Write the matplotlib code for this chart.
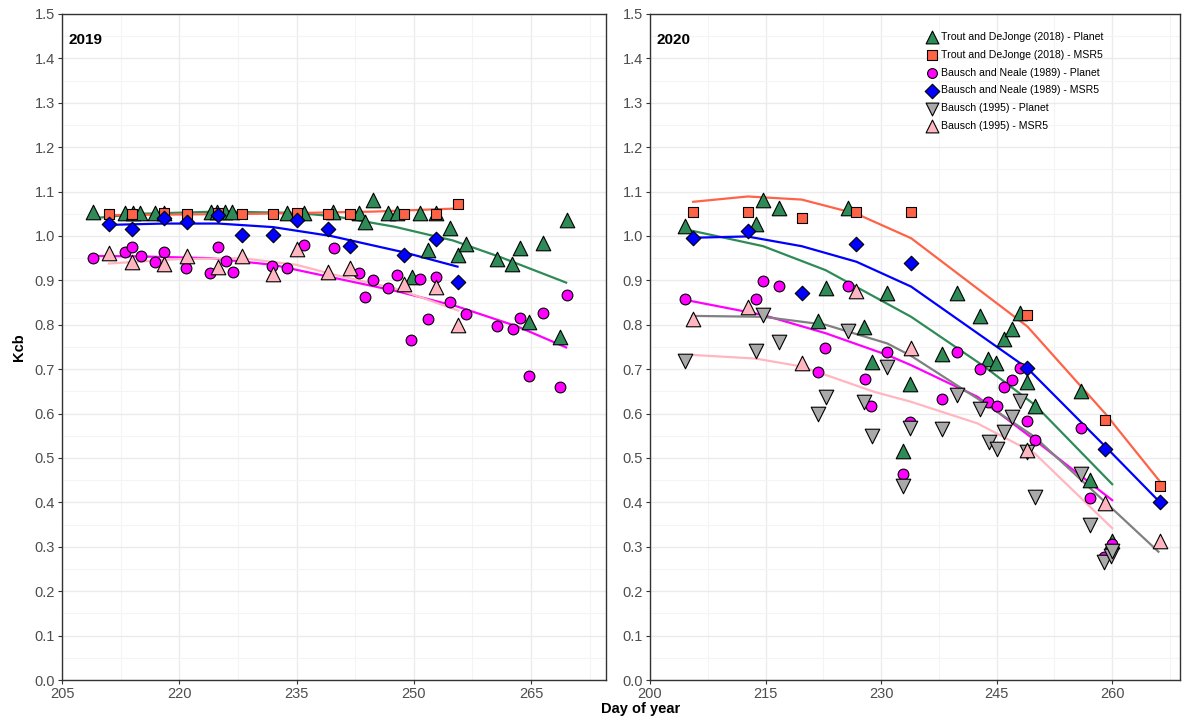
import numpy as np
import matplotlib
matplotlib.use("Agg")
import matplotlib.pyplot as plt
from matplotlib.ticker import MultipleLocator, FixedLocator, FormatStrFormatter

plt.rcParams['font.family'] = ['Liberation Sans', 'DejaVu Sans']

# ---- 2019 ----
planet19_doy = [209, 213.1, 214.1, 215, 216.9, 218, 224, 224.8, 225.9, 226.7, 233.8, 235.9,
                239.7, 243, 243.8, 244.8, 246.7, 247.8, 249.8, 250.8, 251.8, 252.8, 254.7,
                255.7, 256.7, 260.7, 262.6, 263.6, 264.7, 266.6, 268.7, 269.6]
trout_planet19 = [1.054, 1.052, 1.052, 1.052, 1.052, 1.052, 1.054, 1.054, 1.054, 1.054, 1.052, 1.052,
                  1.054, 1.052, 1.032, 1.081, 1.052, 1.052, 0.908, 1.052, 0.968, 1.052, 1.019,
                  0.957, 0.981, 0.948, 0.938, 0.974, 0.806, 0.985, 0.772, 1.036]

bn_planet19_doy = [209, 213.1, 214, 215.1, 216.9, 218, 220.9, 223.9, 225, 226, 226.9, 231.9,
                   233.8, 235.9, 239.8, 243, 243.8, 244.8, 246.7, 247.8, 249.7, 250.8, 251.8,
                   252.8, 254.7, 256.7, 260.6, 262.7, 263.6, 264.7, 266.6, 268.7, 269.6]
bn_planet19 = [0.950, 0.965, 0.976, 0.955, 0.941, 0.964, 0.927, 0.916, 0.975, 0.944, 0.918, 0.933,
               0.927, 0.980, 0.972, 0.916, 0.863, 0.901, 0.882, 0.912, 0.766, 0.904, 0.813,
               0.908, 0.852, 0.824, 0.798, 0.790, 0.816, 0.685, 0.827, 0.661, 0.866]

msr19_doy = [211, 214, 218, 221, 225, 228, 232, 235, 239, 241.8, 248.8, 252.8, 255.7]
trout_msr19 = [1.050, 1.050, 1.052, 1.050, 1.052, 1.050, 1.050, 1.052, 1.050, 1.050, 1.050, 1.050, 1.073]
bn_msr19 = [1.028, 1.016, 1.040, 1.032, 1.047, 1.002, 1.002, 1.035, 1.015, 0.977, 0.957, 0.994, 0.897]
b95_msr19 = [0.961, 0.942, 0.937, 0.955, 0.930, 0.955, 0.914, 0.970, 0.920, 0.927, 0.891, 0.886, 0.800]

# fitted curves 2019
fit_trout_planet19_x = [209, 215, 225, 235, 240, 247.5, 255, 261, 269.5]
fit_trout_planet19_y = [1.040, 1.050, 1.055, 1.052, 1.044, 1.021, 0.990, 0.953, 0.895]
fit_trout_msr19_x = [211, 230, 245, 255.7]
fit_trout_msr19_y = [1.047, 1.050, 1.055, 1.062]
fit_bn_msr19_x = [211, 218, 225, 232, 239.4, 248.8, 255.6]
fit_bn_msr19_y = [1.025, 1.028, 1.028, 1.020, 1.000, 0.963, 0.931]
fit_bn_planet19_x = [209, 215, 224, 232, 240, 248, 255.6, 263.3, 269.5]
fit_bn_planet19_y = [0.955, 0.954, 0.950, 0.935, 0.905, 0.875, 0.841, 0.796, 0.749]
fit_b95_msr19_x = [211, 220, 228, 235, 240, 248, 255.7]
fit_b95_msr19_y = [0.938, 0.948, 0.950, 0.935, 0.912, 0.880, 0.832]

# ---- 2020 ----
planet20_doy = [204.6, 213.7, 214.7, 216.7, 221.8, 222.8, 225.7, 227.8, 228.8, 230.8, 232.9, 233.8,
                237.9, 239.9, 242.9, 243.9, 244.9, 246, 247, 248, 249, 250, 256, 257.1, 260]
trout_planet20 = [1.022, 1.026, 1.080, 1.064, 0.809, 0.882, 1.062, 0.796, 0.717, 0.872, 0.516, 0.666,
                  0.734, 0.871, 0.820, 0.724, 0.715, 0.767, 0.790, 0.827, 0.672, 0.616, 0.651, 0.450, 0.312]

bn_planet20_doy = [204.6, 213.7, 214.7, 216.7, 221.8, 222.7, 225.7, 227.9, 228.7, 230.8, 232.9, 233.8,
                   237.9, 239.9, 242.9, 243.9, 245, 245.9, 247, 248, 249, 250, 256, 257.1, 258.9, 260]
bn_planet20 = [0.857, 0.857, 0.899, 0.888, 0.693, 0.747, 0.887, 0.679, 0.618, 0.739, 0.464, 0.580,
               0.632, 0.738, 0.700, 0.625, 0.616, 0.659, 0.676, 0.703, 0.584, 0.541, 0.568, 0.409, 0.276, 0.306]

b95_planet20_doy = [204.6, 213.7, 214.7, 216.7, 221.8, 222.8, 225.7, 227.8, 228.8, 230.8, 232.9, 233.8,
                    237.9, 239.8, 242.9, 244, 245, 246, 247, 248, 249, 250, 256, 257.1, 258.9, 259.9, 260]
b95_planet20 = [0.719, 0.740, 0.821, 0.762, 0.598, 0.638, 0.786, 0.627, 0.550, 0.704, 0.437, 0.567,
                0.565, 0.642, 0.610, 0.537, 0.520, 0.558, 0.592, 0.629, 0.513, 0.413, 0.464, 0.349, 0.266, 0.280, 0.290]

msr20_doy = [205.6, 212.7, 219.7, 226.8, 233.9, 249, 259.1, 266.2]
trout_msr20 = [1.053, 1.053, 1.041, 1.053, 1.053, 0.822, 0.586, 0.437]
bn_msr20 = [0.996, 1.011, 0.872, 0.982, 0.940, 0.702, 0.520, 0.402]
b95_msr20 = [0.812, 0.841, 0.713, 0.875, 0.747, 0.518, 0.399, 0.314]

# fitted curves 2020
fit_trout_msr20_x = [205.6, 212.7, 219.7, 226.8, 233.9, 249, 259.1, 266.2]
fit_trout_msr20_y = [1.077, 1.089, 1.082, 1.050, 0.995, 0.796, 0.600, 0.447]
fit_trout_planet20_x = [204.6, 214.7, 222.8, 233.9, 243.4, 250, 260]
fit_trout_planet20_y = [1.015, 0.977, 0.923, 0.818, 0.706, 0.619, 0.441]
fit_bn_msr20_x = [205.5, 212.6, 219.7, 226.8, 233.9, 249, 259.1, 266.1]
fit_bn_msr20_y = [0.996, 0.999, 0.977, 0.942, 0.886, 0.702, 0.526, 0.402]
fit_bn_planet20_x = [204.6, 214.7, 222.8, 230.8, 233.9, 242.5, 249.9, 260]
fit_bn_planet20_y = [0.856, 0.822, 0.781, 0.732, 0.709, 0.638, 0.541, 0.405]
fit_b95_a_x = [205.5, 214.7, 222.8, 230.8, 233.9, 242.5, 249.9, 260, 266]
fit_b95_a_y = [0.820, 0.818, 0.800, 0.758, 0.730, 0.634, 0.548, 0.386, 0.289]
fit_b95_b_x = [205.6, 213.7, 219.7, 229.1, 233.8, 242.5, 249.9, 260]
fit_b95_b_y = [0.732, 0.724, 0.706, 0.649, 0.627, 0.578, 0.511, 0.342]

xticks19 = [205, 220, 235, 250, 265]
xticks20 = [200, 215, 230, 245, 260]

GREEN = '#2E8B57'
ORANGE = '#FF6347'
MAGENTA = '#FF00FF'
BLUE = '#0000FF'
GREY = '#A9A9A9'
PINK = '#FFB6C1'

fig = plt.figure(figsize=(11.82, 7.17), dpi=100)
ax1 = fig.add_axes([0.0525, 0.0516, 0.4602, 0.9289])
ax2 = fig.add_axes([0.5499, 0.0516, 0.4484, 0.9289])

def style_axis(ax, xlim, ticks, year):
    ax.set_xlim(*xlim)
    ax.set_ylim(0, 1.5)
    ax.xaxis.set_major_locator(FixedLocator(ticks))
    step = ticks[1] - ticks[0]
    ax.xaxis.set_minor_locator(FixedLocator([t + step / 2 for t in ticks]))
    ax.yaxis.set_major_locator(MultipleLocator(0.1))
    ax.yaxis.set_minor_locator(MultipleLocator(0.05))
    ax.grid(True, which='major', color='#EBEBEB', linewidth=1.0)
    ax.grid(True, which='minor', color='#F4F4F4', linewidth=0.8)
    ax.set_axisbelow(True)
    ax.tick_params(which='major', length=3, color='#333333', labelsize=10.5, labelcolor='#4D4D4D', pad=2)
    ax.tick_params(which='minor', length=0)
    ax.yaxis.set_major_formatter(FormatStrFormatter('%.1f'))
    for s in ax.spines.values():
        s.set_color('#333333')
        s.set_linewidth(1.0)
    ax.text(0.012, 0.972, year, transform=ax.transAxes, fontsize=11, fontweight='bold',
            va='top', ha='left')

def pts(ax, x, y, marker, color, s, label=None):
    ax.scatter(x, y, marker=marker, s=s, facecolor=color, edgecolor='black',
               linewidths=0.8, zorder=3, label=label)

style_axis(ax1, (205, 274.6), xticks19, '2019')
style_axis(ax2, (200, 268.8), xticks20, '2020')

# 2019 panel
ax1.plot(fit_trout_planet19_x, fit_trout_planet19_y, color=GREEN, lw=1.6, zorder=2)
ax1.plot(fit_trout_msr19_x, fit_trout_msr19_y, color=ORANGE, lw=1.6, zorder=2)
ax1.plot(fit_bn_planet19_x, fit_bn_planet19_y, color=MAGENTA, lw=1.6, zorder=2)
ax1.plot(fit_bn_msr19_x, fit_bn_msr19_y, color=BLUE, lw=1.6, zorder=2)
ax1.plot(fit_b95_msr19_x, fit_b95_msr19_y, color=PINK, lw=1.6, zorder=2)
pts(ax1, planet19_doy, trout_planet19, '^', GREEN, 110)
pts(ax1, msr19_doy, trout_msr19, 's', ORANGE, 60)
pts(ax1, bn_planet19_doy, bn_planet19, 'o', MAGENTA, 60)
pts(ax1, msr19_doy, bn_msr19, 'D', BLUE, 55)
pts(ax1, msr19_doy, b95_msr19, '^', PINK, 110)

# 2020 panel
ax2.plot(fit_trout_planet20_x, fit_trout_planet20_y, color=GREEN, lw=1.6, zorder=2)
ax2.plot(fit_trout_msr20_x, fit_trout_msr20_y, color=ORANGE, lw=1.6, zorder=2)
ax2.plot(fit_bn_planet20_x, fit_bn_planet20_y, color=MAGENTA, lw=1.6, zorder=2)
ax2.plot(fit_bn_msr20_x, fit_bn_msr20_y, color=BLUE, lw=1.6, zorder=2)
ax2.plot(fit_b95_a_x, fit_b95_a_y, color='#808080', lw=1.6, zorder=2)
ax2.plot(fit_b95_b_x, fit_b95_b_y, color=PINK, lw=1.6, zorder=2)
pts(ax2, planet20_doy, trout_planet20, '^', GREEN, 110, 'Trout and DeJonge (2018) - Planet')
pts(ax2, msr20_doy, trout_msr20, 's', ORANGE, 60, 'Trout and DeJonge (2018) - MSR5')
pts(ax2, bn_planet20_doy, bn_planet20, 'o', MAGENTA, 60, 'Bausch and Neale (1989) - Planet')
pts(ax2, msr20_doy, bn_msr20, 'D', BLUE, 55, 'Bausch and Neale (1989) - MSR5')
pts(ax2, b95_planet20_doy, b95_planet20, 'v', GREY, 110, 'Bausch (1995) - Planet')
pts(ax2, msr20_doy, b95_msr20, '^', PINK, 110, 'Bausch (1995) - MSR5')

leg = ax2.legend(loc='upper left', bbox_to_anchor=(0.505, 0.984), frameon=False,
                 prop={'size': 7.6}, handletextpad=0.1, labelspacing=0.74,
                 borderpad=0.2, handlelength=1.4, scatterpoints=1)
for h, s in zip(leg.legend_handles, [85, 55, 50, 55, 85, 85]):
    h.set_sizes([s])

fig.text(0.016, 0.5159, 'Kcb', rotation=90, ha='center', va='center', fontsize=10.5,
         fontweight='bold')
fig.text(0.5423, 0.0105, 'Day of year', ha='center', va='center', fontsize=10.5,
         fontweight='bold')

fig.savefig('out.png', dpi=100)
